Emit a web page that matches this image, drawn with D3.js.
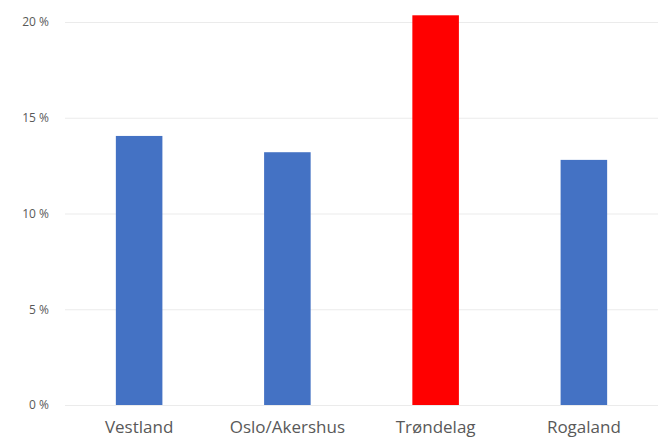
<!DOCTYPE html>
<html><head><meta charset="utf-8">
<script src="https://cdn.jsdelivr.net/npm/d3@7"></script>
<style>body{margin:0;background:#fff}svg{display:block}</style>
</head><body>
<svg id="c" width="665" height="439"></svg>
<script>
const categories = ["Vestland", "Oslo/Akershus", "Trøndelag", "Rogaland"];
const values = [14.05, 13.2, 20.35, 12.8];
const colors = ["#4472C4", "#4472C4", "#FF0000", "#4472C4"];
const yTicks = [0, 5, 10, 15, 20];

(function () {
const svg = d3.select("#c");
const mLeft = 65, mRight = 658, mTop = 22, mBottom = 405;

const x = d3.scaleBand().domain(categories).range([mLeft, mRight]).paddingInner(0.686).paddingOuter(0.343);
const y = d3.scaleLinear().domain([0, 20]).range([mBottom, mTop]);

const yAxis = d3.axisLeft(y).tickValues(yTicks).tickSize(-(mRight - mLeft)).tickFormat(d => d + " %");
const gy = svg.append("g").attr("transform", `translate(${mLeft},0)`).call(yAxis);
gy.select(".domain").remove();
gy.selectAll(".tick line").attr("stroke", "#ebebeb").attr("stroke-width", 1.2);
gy.selectAll(".tick text").attr("x", -16).attr("fill", "#595959")
  .style("font-family", "'Open Sans', sans-serif").style("font-size", "12px");

svg.append("g").selectAll("rect").data(categories).join("rect")
  .attr("x", d => x(d)).attr("width", x.bandwidth())
  .attr("y", (d, i) => y(values[i])).attr("height", (d, i) => y(0) - y(values[i]))
  .attr("fill", (d, i) => colors[i]);

const xAxis = d3.axisBottom(x).tickSize(0);
const gx = svg.append("g").attr("transform", `translate(0,${mBottom})`).call(xAxis);
gx.select(".domain").remove();
gx.selectAll(".tick text").attr("dy", 0).attr("y", 28).attr("fill", "#595959")
  .style("font-family", "'Open Sans', sans-serif").style("font-size", "17px");
})();
</script>
</body></html>
